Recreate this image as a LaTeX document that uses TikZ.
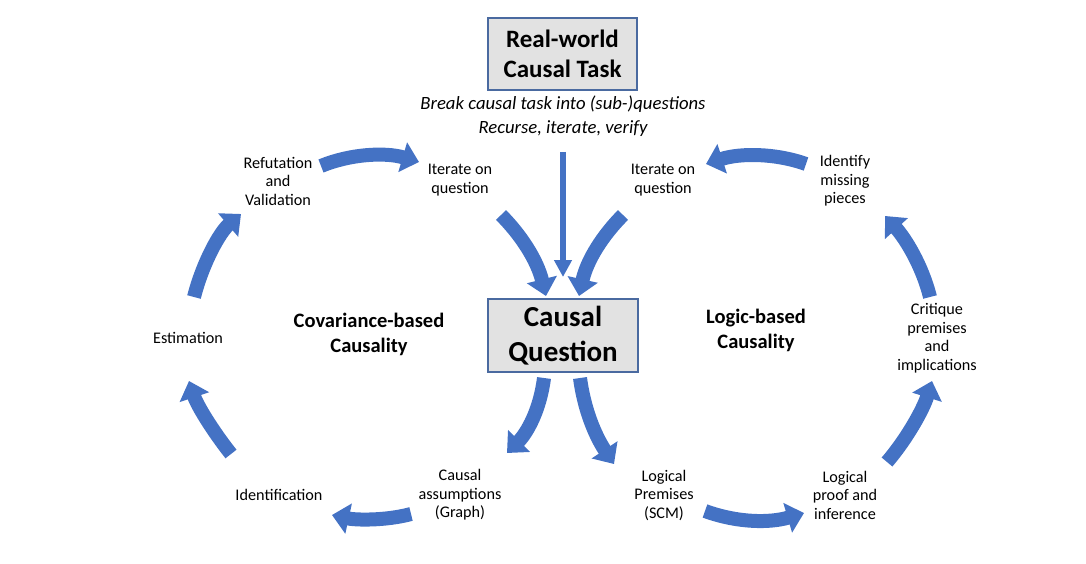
\documentclass[tikz,border=0pt]{standalone}
\usepackage{fontspec}
\setmainfont{Carlito}
\usetikzlibrary{arrows.meta}
\definecolor{acc}{RGB}{68,114,196}
\definecolor{boxfill}{RGB}{226,226,226}
\definecolor{boxline}{RGB}{74,106,160}
\begin{document}
\begin{tikzpicture}[x=1pt,y=-1pt,
  lbl/.style={align=center,font=\fontsize{16.2}{18.5}\selectfont,inner sep=0pt},
  hdr/.style={align=center,font=\fontsize{20.5}{25}\selectfont\bfseries,inner sep=0pt},
  bigbox/.style={draw=boxline,fill=boxfill,line width=1.1pt,inner sep=0pt},
  blk/.style={draw=acc,line width=14pt,-{Triangle[width=30pt,length=17pt]}},
  thin/.style={draw=acc,line width=6pt,-{Triangle[width=17pt,length=17pt]}}]
\useasboundingbox (0,0) rectangle (1086,564);
% boxes
\node[bigbox,minimum width=149pt,minimum height=72pt,align=center,
  font=\fontsize{25}{30}\selectfont\bfseries] (task) at (562.5,54) {Real-world\\Causal Task};
\node[bigbox,minimum width=150pt,minimum height=73pt,align=center,
  font=\fontsize{29}{35}\selectfont\bfseries] (cq) at (563,335.5) {Causal\\Question};
\node[align=center,font=\fontsize{18.7}{24}\selectfont\itshape,inner sep=0pt] (brk) at (563,116)
  {Break causal task into (sub-)questions\\Recurse, iterate, verify};
% labels
\node[lbl] (ref) at (278,181) {Refutation\\and\\Validation};
\node[lbl] (itl) at (460,180) {Iterate on\\question};
\node[lbl] (itr) at (663,180) {Iterate on\\question};
\node[lbl] (idm) at (845,181) {Identify\\missing\\pieces};
\node[lbl] (est) at (188,338) {Estimation};
\node[hdr] (cov) at (369,334) {Covariance-based\\Causality};
\node[hdr] (log) at (756,330) {Logic-based\\Causality};
\node[lbl] (cri) at (937,338) {Critique\\premises\\and\\implications};
\node[lbl] (idf) at (279,495) {Identification};
\node[lbl] (cas) at (460,495) {Causal\\assumptions\\(Graph)};
\node[lbl] (lpr) at (664,495) {Logical\\Premises\\(SCM)};
\node[lbl] (lpf) at (845,495) {Logical\\proof and\\inference};
% arrow end points
\coordinate (a1s) at (321,166); \coordinate (a1e) at (419,162);
\coordinate (a2s) at (194,297); \coordinate (a2e) at (241,214);
\coordinate (a3s) at (231,454); \coordinate (a3e) at (189,381);
\coordinate (a4s) at (411,514); \coordinate (a4e) at (332,515);
\coordinate (a5s) at (544,378); \coordinate (a5e) at (507,453);
\coordinate (a6s) at (580,378); \coordinate (a6e) at (614,464);
\coordinate (a7s) at (705,511); \coordinate (a7e) at (804,513);
\coordinate (a8s) at (887,462); \coordinate (a8e) at (932,381);
\coordinate (a9s) at (930,297); \coordinate (a9e) at (885,216);
\coordinate (a10s) at (806,164); \coordinate (a10e) at (706,164);
\coordinate (a11s) at (501,215); \coordinate (a11e) at (546,296);
\coordinate (a12s) at (623,215); \coordinate (a12e) at (579,296);
\coordinate (vs) at (563,152); \coordinate (ve) at (563,277);
% arrows
\draw[blk] (a1s) .. controls (350,154) and (385,152) .. (a1e);
\draw[blk] (a2s) .. controls (203,262) and (220,232) .. (a2e);
\draw[blk] (a3s) .. controls (212,430) and (197,405) .. (a3e);
\draw[blk] (a4s) .. controls (385,521) and (355,520) .. (a4e);
\draw[blk] (a5s) .. controls (540,410) and (527,433) .. (a5e);
\draw[blk] (a6s) .. controls (585,415) and (598,440) .. (a6e);
\draw[blk] (a7s) .. controls (738,523) and (770,523) .. (a7e);
\draw[blk] (a8s) .. controls (906,440) and (923,410) .. (a8e);
\draw[blk] (a9s) .. controls (922,265) and (905,238) .. (a9e);
\draw[blk] (a10s) .. controls (775,153) and (740,153) .. (a10e);
\draw[blk] (a11s) .. controls (521,235) and (537,260) .. (a11e);
\draw[blk] (a12s) .. controls (603,235) and (587,260) .. (a12e);
\draw[thin] (vs) -- (ve);
\end{tikzpicture}
\end{document}
